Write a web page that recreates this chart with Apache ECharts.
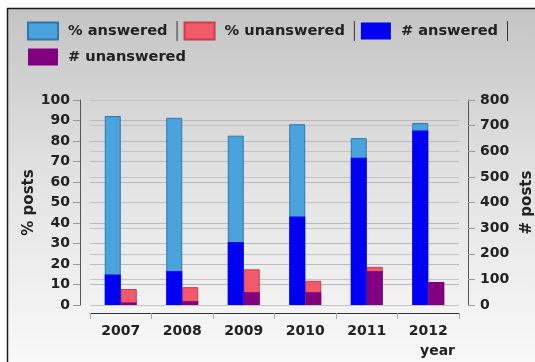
<!DOCTYPE html>
<html>
<head>
<meta charset="utf-8">
<script src="https://cdn.jsdelivr.net/npm/echarts@6/dist/echarts.min.js"></script>
<style>
  html, body { margin: 0; padding: 0; background: #ffffff; }
  #chart { width: 535px; height: 362px; }
</style>
</head>
<body>
<div id="chart"></div>
<script>
// Yearly share and count of answered / unanswered posts
const years = ['2007', '2008', '2009', '2010', '2011', '2012'];
const pctAnswered = [92.2, 91.3, 82.6, 88.2, 81.4, 88.8];
const pctUnanswered = [7.8, 8.7, 17.4, 11.8, 18.6, 11.2];
const numAnswered = [119, 132, 246, 345, 575, 681];
const numUnanswered = [10, 15, 50, 50, 132, 90];
const pctTicks = { min: 0, max: 100, step: 10 };
const numTicks = { min: 0, max: 800, step: 100 };

const FONT = 'DejaVu Sans';
const labelStyle = { fontFamily: FONT, fontWeight: 'bold', fontSize: 14, color: '#222' };

const chart = echarts.init(document.getElementById('chart'), null, { renderer: 'canvas' });

const legendNames = ['% answered', '% unanswered', '# answered', '# unanswered'];

chart.setOption({
  backgroundColor: '#ffffff',
  animation: false,
  graphic: [{
    type: 'rect',
    z: -10,
    silent: true,
    shape: { x: 7.5, y: 8.5, width: 540, height: 370 },
    style: {
      fill: new echarts.graphic.LinearGradient(0, 0, 0, 1, [
        { offset: 0, color: '#c4c4c4' },
        { offset: 0.45, color: '#e2e2e2' },
        { offset: 1, color: '#fbfbfb' }
      ]),
      stroke: '#1a1a1a',
      lineWidth: 1.5
    }
  }],
  legend: {
    data: legendNames,
    icon: 'rect',
    left: 27,
    top: 21,
    padding: 0,
    width: 500,
    itemWidth: 30,
    itemHeight: 17,
    itemGap: 6,
    textStyle: {
      fontFamily: FONT, fontWeight: 'bold', fontSize: 14.6, color: '#222',
      rich: {
        t: { fontFamily: FONT, fontWeight: 'bold', fontSize: 14.6, color: '#222' },
        h: { width: 5 },
        g: { width: 9 },
        s: { width: 1, height: 20, backgroundColor: '#333', fontSize: 1 }
      }
    },
    formatter: function (name) {
      return name === '# unanswered'
        ? '{h|}{t|' + name + '}'
        : '{h|}{t|' + name + '}{g|}{s| }';
    }
  },
  grid: { left: 90, right: 76, top: 100, bottom: 57, outerBoundsMode: 'none' },
  xAxis: [{
    type: 'category',
    data: years,
    offset: 8,
    name: 'year',
    nameLocation: 'end',
    nameGap: -4,
    nameMoveOverlap: false,
    nameTextStyle: Object.assign({}, labelStyle, { align: 'right', verticalAlign: 'top', padding: [31, 0, 0, 0] }),
    axisLine: { onZero: false, lineStyle: { color: '#333', width: 1 } },
    axisTick: { show: true, length: 6, lineStyle: { color: '#aaa' } },
    axisLabel: Object.assign({}, labelStyle, { margin: 11 }),
    splitLine: { show: false }
  }, {
    type: 'category',
    data: years,
    show: false
  }],
  yAxis: [{
    type: 'value',
    position: 'left',
    min: pctTicks.min, max: pctTicks.max, interval: pctTicks.step,
    offset: 10,
    name: '% posts',
    nameLocation: 'middle',
    nameRotate: 90,
    nameGap: 51,
    nameMoveOverlap: false,
    nameTextStyle: Object.assign({}, labelStyle, { fontSize: 15, verticalAlign: 'middle' }),
    axisLine: { show: true, lineStyle: { color: '#555', width: 1 } },
    axisTick: { show: true, length: 7, lineStyle: { color: '#999' } },
    axisLabel: Object.assign({}, labelStyle, { margin: 10 }),
    splitLine: { show: true, lineStyle: { color: '#bababa', width: 1 } }
  }, {
    type: 'value',
    position: 'right',
    min: numTicks.min, max: numTicks.max, interval: numTicks.step,
    offset: 9,
    name: '# posts',
    nameLocation: 'middle',
    nameRotate: 90,
    nameGap: 59,
    nameMoveOverlap: false,
    nameTextStyle: Object.assign({}, labelStyle, { fontSize: 15, verticalAlign: 'middle' }),
    axisLine: { show: true, lineStyle: { color: '#555', width: 1 } },
    axisTick: { show: true, length: 7, lineStyle: { color: '#999' } },
    axisLabel: Object.assign({}, labelStyle, { margin: 12 }),
    splitLine: { show: true, lineStyle: { color: '#c4c4c4', width: 1 } }
  }],
  series: [{
    name: '% answered', type: 'bar', xAxisIndex: 0, yAxisIndex: 0,
    data: pctAnswered, barWidth: 16, barGap: '0%', z: 2,
    itemStyle: { color: '#4ba3dd', borderColor: '#2f78a8', borderWidth: 1 }
  }, {
    name: '% unanswered', type: 'bar', xAxisIndex: 0, yAxisIndex: 0,
    data: pctUnanswered, barWidth: 16, barGap: '0%', z: 2,
    itemStyle: { color: '#f25a6c', borderColor: '#c2404f', borderWidth: 1 }
  }, {
    name: '# answered', type: 'bar', xAxisIndex: 1, yAxisIndex: 1,
    data: numAnswered, barWidth: 16, barGap: '0%', z: 3,
    itemStyle: { color: '#0000f2', borderColor: '#0000c8', borderWidth: 0 }
  }, {
    name: '# unanswered', type: 'bar', xAxisIndex: 1, yAxisIndex: 1,
    data: numUnanswered, barWidth: 16, barGap: '0%', z: 3,
    itemStyle: { color: '#800080', borderColor: '#5a005a', borderWidth: 0 }
  }]
});
</script>
</body>
</html>
